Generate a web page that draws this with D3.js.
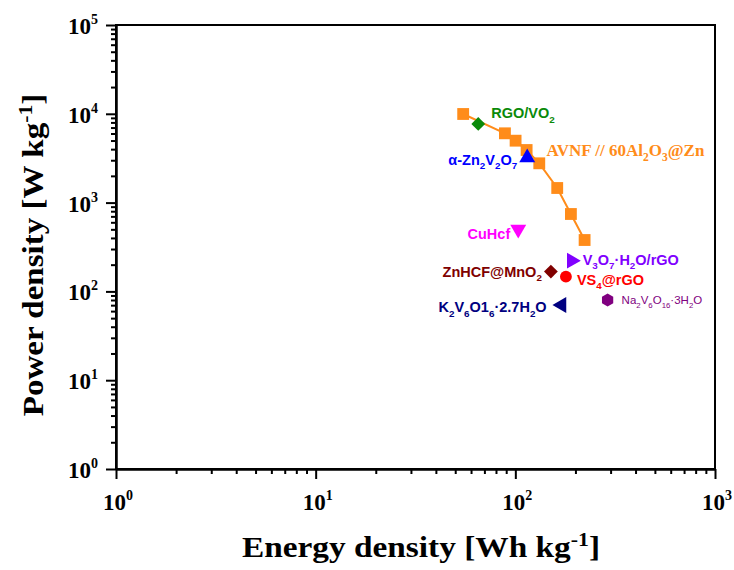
<!DOCTYPE html>
<html>
<head>
<meta charset="utf-8">
<script src="https://cdn.jsdelivr.net/npm/d3@7"></script>
<style>
  html, body { margin: 0; padding: 0; background: #fff; }
  svg { display: block; }
</style>
</head>
<body>
<svg id="chart" width="734" height="570"></svg>
<script>
// ---------------- DATA ----------------
const xTickExponents = [0, 1, 2, 3];
const yTickExponents = [0, 1, 2, 3, 4, 5];

// This work: AVNF // 60Al2O3@Zn (energy Wh/kg, power W/kg)
const avnfEnergy = [54.8, 88.7, 100.3, 113.9, 131.8, 162.1, 189.8, 222.3];
const avnfPower  = [9950, 6030, 4980, 3910, 2770, 1460, 744, 379];

// Reference materials
const refNames  = ["RGO/VO2", "α-Zn2V2O7", "CuHcf", "V3O7·H2O/rGO", "ZnHCF@MnO2", "VS4@rGO", "K2V6O16·2.7H2O", "Na2V6O16·3H2O"];
const refEnergy = [65.2, 114.7, 103.4, 191.4, 150.7, 179.2, 170.6, 289.8];
const refPower  = [7680, 3205, 500, 222, 167, 146.5, 70.3, 80];

// ---------------- STYLE / LAYOUT ----------------
const refShapes = ["diamond", "triUp", "triDown", "triRight", "diamond", "circle", "triLeft", "hexagon"];
const refColors = ["#0a8a0a", "#0000ff", "#ff00ff", "#8000ff", "#800000", "#ff0000", "#000080", "#800080"];
// label pieces: [text, isSubscript]
const refLabelParts = [
  [["RGO/VO",0],["2",1]],
  [["α-Zn",0],["2",1],["V",0],["2",1],["O",0],["7",1]],
  [["CuHcf",0]],
  [["V",0],["3",1],["O",0],["7",1],["·H",0],["2",1],["O/rGO",0]],
  [["ZnHCF@MnO",0],["2",1]],
  [["VS",0],["4",1],["@rGO",0]],
  [["K",0],["2",1],["V",0],["6",1],["O1",0],["6",1],["·2.7H",0],["2",1],["O",0]],
  [["Na",0],["2",1],["V",0],["6",1],["O",0],["16",1],["·3H",0],["2",1],["O",0]]
];
// label layout relative to marker: dx, dy(center), anchor, fontSize, weight
const refLabelLayout = [
  {dx: 13, dy: -11, anchor: "start", size: 14.5, weight: "bold"},
  {dx: -10, dy: 2, anchor: "end", size: 14.5, weight: "bold"},
  {dx: -8, dy: 4, anchor: "end", size: 14.5, weight: "bold"},
  {dx: 11, dy: -1, anchor: "start", size: 14.5, weight: "bold"},
  {dx: -9, dy: 0, anchor: "end", size: 14.5, weight: "bold"},
  {dx: 11, dy: 3, anchor: "start", size: 14.5, weight: "bold"},
  {dx: -15, dy: 2, anchor: "end", size: 14.5, weight: "bold"},
  {dx: 14, dy: 0, anchor: "start", size: 11.5, weight: "normal"}
];

const avnfColor = "#ff8c1a";
const avnfLabelParts = [["AVNF // 60Al",0],["2",1],["O",0],["3",1],["@Zn",0]];

const W = 734, H = 570;
const plot = {left: 116, right: 715, top: 25, bottom: 469};
const serif = "'Liberation Serif', 'Times New Roman', Times, serif";
const sans = "'Liberation Sans', Arial, Helvetica, sans-serif";

const svg = d3.select("#chart");

const x = d3.scaleLog().domain([1, 1000]).range([plot.left, plot.right]);
const y = d3.scaleLog().domain([1, 1e5]).range([plot.bottom, plot.top]);

// minor ticks
function minorTicks(exps) {
  const out = [];
  for (let i = 0; i < exps.length - 1; i++) {
    for (let m = 2; m <= 9; m++) out.push(m * Math.pow(10, exps[i]));
  }
  return out;
}
const xMajor = xTickExponents.map(e => Math.pow(10, e));
const yMajor = yTickExponents.map(e => Math.pow(10, e));

// axes (major + minor)
const gx = svg.append("g").attr("transform", `translate(0,${plot.bottom})`);
gx.call(d3.axisBottom(x).tickValues(xMajor).tickSize(10).tickSizeOuter(0).tickFormat(""));
const gxm = svg.append("g").attr("transform", `translate(0,${plot.bottom})`);
gxm.call(d3.axisBottom(x).tickValues(minorTicks(xTickExponents)).tickSize(5).tickSizeOuter(0).tickFormat(""));

const gy = svg.append("g").attr("transform", `translate(${plot.left},0)`);
gy.call(d3.axisLeft(y).tickValues(yMajor).tickSize(10).tickSizeOuter(0).tickFormat(""));
const gym = svg.append("g").attr("transform", `translate(${plot.left},0)`);
gym.call(d3.axisLeft(y).tickValues(minorTicks(yTickExponents)).tickSize(5).tickSizeOuter(0).tickFormat(""));

svg.selectAll(".domain").attr("stroke", "#000").attr("stroke-width", 2);
svg.selectAll(".tick line").attr("stroke", "#000").attr("stroke-width", 2);

// frame
svg.append("rect")
  .attr("x", plot.left).attr("y", plot.top)
  .attr("width", plot.right - plot.left).attr("height", plot.bottom - plot.top)
  .attr("fill", "none").attr("stroke", "#000").attr("stroke-width", 2);

// tick labels
const xl = svg.append("g").attr("font-family", serif).attr("font-weight", "bold").attr("fill", "#000");
xTickExponents.forEach(e => {
  const t = xl.append("text").attr("x", x(Math.pow(10, e)) + 2).attr("y", plot.bottom + 41)
    .attr("text-anchor", "middle").attr("font-size", 23);
  t.append("tspan").text("10");
  t.append("tspan").attr("font-size", 14).attr("dy", -10).text(e);
});
const yl = svg.append("g").attr("font-family", serif).attr("font-weight", "bold").attr("fill", "#000");
yTickExponents.forEach(e => {
  const t = yl.append("text").attr("x", 68).attr("y", y(Math.pow(10, e)) + 9)
    .attr("text-anchor", "start").attr("font-size", 23);
  t.append("tspan").text("10");
  t.append("tspan").attr("font-size", 14).attr("dy", -10).text(e);
});

// axis titles (horizontally stretched like the reference)
const xtg = svg.append("g").attr("transform", "translate(421,557) scale(1.15,1)");
const xt = xtg.append("text").attr("x", 0).attr("y", 0).attr("text-anchor", "middle")
  .attr("font-family", serif).attr("font-weight", "bold").attr("font-size", 29);
xt.append("tspan").text("Energy density [Wh kg");
xt.append("tspan").attr("font-size", 19).attr("dy", -11).text("-1");
xt.append("tspan").attr("dy", 11).text("]");

const ytg = svg.append("g").attr("transform", "translate(43,255) rotate(-90) scale(1.14,1)");
const yt = ytg.append("text").attr("x", 0).attr("y", 0).attr("text-anchor", "middle")
  .attr("font-family", serif).attr("font-weight", "bold").attr("font-size", 29);
yt.append("tspan").text("Power density [W kg");
yt.append("tspan").attr("font-size", 19).attr("dy", -11).text("-1");
yt.append("tspan").attr("dy", 11).text("]");

// helper to write labels with subscripts
function writeParts(textSel, parts, size) {
  let shifted = false;
  parts.forEach(([s, sub]) => {
    const ts = textSel.append("tspan").text(s);
    if (sub && !shifted) { ts.attr("dy", size * 0.3).attr("font-size", size * 0.68); shifted = true; }
    else if (sub) { ts.attr("font-size", size * 0.68); }
    else if (!sub && shifted) { ts.attr("dy", -size * 0.3); shifted = false; }
  });
}

// AVNF line + squares
const avnf = avnfEnergy.map((e, i) => ({e, p: avnfPower[i]}));
svg.append("path").datum(avnf)
  .attr("d", d3.line().x(d => x(d.e)).y(d => y(d.p)))
  .attr("fill", "none").attr("stroke", avnfColor).attr("stroke-width", 2);
svg.append("g").selectAll("path").data(avnf).join("path")
  .attr("transform", d => `translate(${x(d.e)},${y(d.p)})`)
  .attr("d", d3.symbol(d3.symbolSquare, 140)())
  .attr("fill", avnfColor);

const avLab = svg.append("text")
  .attr("x", x(avnfEnergy[3]) + 20).attr("y", y(avnfPower[3]) + 6)
  .attr("font-family", serif).attr("font-weight", "bold").attr("font-size", 17)
  .attr("fill", avnfColor);
writeParts(avLab, avnfLabelParts, 17);

// reference markers
function shapePath(kind) {
  const r = 6.5;
  switch (kind) {
    case "diamond": return d3.symbol(d3.symbolSquare, 95)();
    case "circle": return d3.symbol(d3.symbolCircle, 110)();
    case "hexagon": {
      const pts = d3.range(6).map(k => [r * Math.cos(Math.PI / 6 + k * Math.PI / 3), r * Math.sin(Math.PI / 6 + k * Math.PI / 3)]);
      return d3.line()(pts) + "Z";
    }
    default: return d3.symbol(d3.symbolTriangle, 110)();
  }
}
function shapeRot(kind) {
  return {diamond: 45, triUp: 0, triDown: 180, triRight: 90, triLeft: -90, circle: 0, hexagon: 0}[kind];
}
const refs = refNames.map((n, i) => ({n, e: refEnergy[i], p: refPower[i], s: refShapes[i], c: refColors[i], parts: refLabelParts[i], lay: refLabelLayout[i]}));

svg.append("g").selectAll("path").data(refs).join("path")
  .attr("transform", d => `translate(${x(d.e)},${y(d.p)}) rotate(${shapeRot(d.s)})`)
  .attr("d", d => shapePath(d.s))
  .attr("fill", d => d.c);

refs.forEach(d => {
  const t = svg.append("text")
    .attr("x", x(d.e) + d.lay.dx)
    .attr("y", y(d.p) + d.lay.dy + d.lay.size * 0.36)
    .attr("text-anchor", d.lay.anchor)
    .attr("font-family", sans).attr("font-weight", d.lay.weight)
    .attr("font-size", d.lay.size).attr("fill", d.c);
  writeParts(t, d.parts, d.lay.size);
});
</script>
</body>
</html>
